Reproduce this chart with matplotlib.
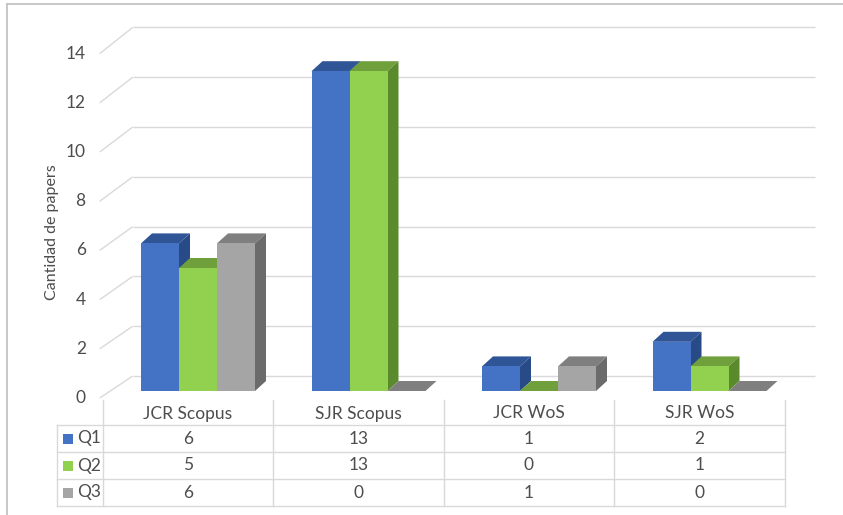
import matplotlib.pyplot as plt
from matplotlib.patches import Polygon, Rectangle

categories = ["JCR Scopus", "SJR Scopus", "JCR WoS", "SJR WoS"]
series = ["Q1", "Q2", "Q3"]
q1 = [6, 13, 1, 2]
q2 = [5, 13, 0, 1]
q3 = [6, 0, 1, 0]
y_ticks = [0, 2, 4, 6, 8, 10, 12, 14]

front_colors = ["#4472C4", "#92D050", "#A5A5A5"]
top_colors = ["#2F5597", "#6FA03C", "#7F7F7F"]
side_colors = ["#284A87", "#5B8A2D", "#6B6B6B"]
grid_color = "#D9D9D9"
text_color = "#4D4D4D"

plt.rcParams["font.family"] = ["Lato", "DejaVu Sans"]

W, H = 843, 515
fig = plt.figure(figsize=(W / 100, H / 100), dpi=100)

# main axes: x in category units, y in value units (front plane of the bars)
col_px = 170.5   # pixels per category
val_px = 24.6    # pixels per value unit
x0_px, y0_px = 188, 391
ax = fig.add_axes([0, 0, 1, 1])
ax.set_xlim(-x0_px / col_px, (W - x0_px) / col_px)
ax.set_ylim(-(H - y0_px) / val_px, y0_px / val_px)
ax.axis("off")


def dx(p):
    return p / col_px


def dy(p):
    return p / val_px


# 3d look: floor front edge, back wall, bar depth (pixel offsets)
left_edge = -0.5
right_edge = len(categories) - 0.5
floor_off = (-dx(3), -dy(7))
wall_off = (dx(30), dy(15))
wall_scale = 24.9 / 24.6
bar_depth = (dx(11), dy(10))

for v in y_ticks:
    fy = v + floor_off[1]
    by = wall_off[1] + v * wall_scale
    ax.plot([left_edge + floor_off[0], left_edge + wall_off[0]], [fy, by],
            color=grid_color, lw=1, zorder=1, solid_capstyle="butt")
    ax.plot([left_edge + wall_off[0], right_edge + wall_off[0]], [by, by],
            color=grid_color, lw=1, zorder=1, solid_capstyle="butt")
    ax.text(left_edge - dx(17), fy, str(v), ha="right", va="center",
            fontsize=12.5, color=text_color)

fig.text(52 / W, 1 - 232 / H, "Cantidad de papers", rotation=90,
         ha="center", va="center", fontsize=11.5, color=text_color)

# bars
bar_w = dx(38)
for j, vals in enumerate([q1, q2, q3]):
    for i, h in enumerate(vals):
        left = i + dx(-47 + 38 * j)
        bx, by = bar_depth
        top = Polygon([(left, h), (left + bar_w, h), (left + bar_w + bx, h + by),
                       (left + bx, h + by)], closed=True,
                      facecolor=top_colors[j], edgecolor="none", zorder=3)
        ax.add_patch(top)
        if h > 0:
            side = Polygon([(left + bar_w, 0), (left + bar_w + bx, by),
                            (left + bar_w + bx, h + by), (left + bar_w, h)],
                           closed=True, facecolor=side_colors[j],
                           edgecolor="none", zorder=3)
            ax.add_patch(side)
            ax.add_patch(Rectangle((left, 0), bar_w, h, facecolor=front_colors[j],
                                   edgecolor="none", zorder=3))

# data table in pixel coordinates
tab = fig.add_axes([0, 0, 1, 1])
tab.set_xlim(0, W)
tab.set_ylim(H, 0)
tab.axis("off")
tab.patch.set_alpha(0)

col_edges = [x0_px + col_px * (i - 0.5) for i in range(len(categories) + 1)]
label_left = 57
header_top, header_bot = 400, 425
row_h = 27
rows = [q1, q2, q3]
table_bot = header_bot + row_h * len(rows)

for x in col_edges:
    tab.plot([x, x], [header_top, table_bot], color=grid_color, lw=1)
tab.plot([label_left, label_left], [header_bot, table_bot], color=grid_color, lw=1)
for k in range(len(rows) + 1):
    yy = header_bot + row_h * k
    tab.plot([label_left, col_edges[-1]], [yy, yy], color=grid_color, lw=1)

for i, c in enumerate(categories):
    cx = x0_px + col_px * i
    tab.text(cx, (header_top + header_bot) / 2 + 1, c, ha="center", va="center",
             fontsize=12.5, color=text_color)
    for k, vals in enumerate(rows):
        tab.text(cx, header_bot + row_h * (k + 0.5), str(vals[i]), ha="center",
                 va="center", fontsize=12.5, color=text_color)

for k, name in enumerate(series):
    yc = header_bot + row_h * (k + 0.5)
    tab.add_patch(Rectangle((63, yc - 5), 10, 10, facecolor=front_colors[k],
                            edgecolor="none"))
    tab.text(77, yc, name, ha="left", va="center", fontsize=12.5, color=text_color)

# chart border
tab.plot([7, 7], [4, H], color="#BFBFBF", lw=1.2)
tab.plot([7, W], [4, 4], color="#BFBFBF", lw=1.2)

plt.savefig("out.png", dpi=100)
